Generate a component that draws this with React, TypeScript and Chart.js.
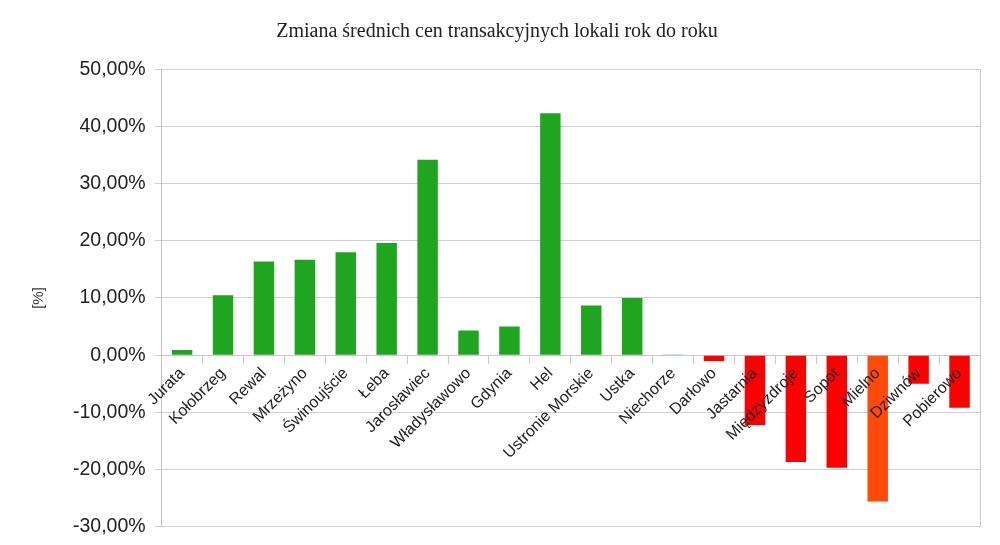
import React, { useEffect, useRef } from "react";
import { Chart, registerables } from "chart.js";

Chart.register(...registerables);

const TITLE = "Zmiana średnich cen transakcyjnych lokali rok do roku";
const Y_TITLE = "[%]";

const towns = [
  "Jurata", "Kołobrzeg", "Rewal", "Mrzeżyno", "Świnoujście", "Łeba", "Jarosławiec",
  "Władysławowo", "Gdynia", "Hel", "Ustronie Morskie", "Ustka", "Niechorze", "Darłowo",
  "Jastarnia", "Międzyzdroje", "Sopot", "Mielno", "Dziwnów", "Pobierowo",
];

const changePct = [
  0.9, 10.5, 16.4, 16.7, 18.0, 19.6, 34.2,
  4.3, 5.0, 42.3, 8.7, 10.0, 0.1, -1.0,
  -12.2, -18.7, -19.7, -25.6, -5.0, -9.2,
];

const Y_MIN = -30;
const Y_MAX = 50;
const Y_STEP = 10;

const GREEN = "#1fa51f";
const RED = "#ff0000";
const ORANGE = "#ff4a0a";
const HIGHLIGHT = "Mielno";

const barColors = towns.map((t, i) =>
  t === HIGHLIGHT ? ORANGE : changePct[i] >= 0 ? GREEN : RED
);

const fmt = (v: number) => v.toFixed(2).replace(".", ",") + "%";

const rightBorder = {
  id: "rightBorder",
  afterDraw(chart: any) {
    const { ctx, chartArea } = chart;
    ctx.save();
    ctx.strokeStyle = "#c8c8c8";
    ctx.lineWidth = 1;
    ctx.beginPath();
    const x = Math.round(chartArea.right) + 0.5;
    ctx.moveTo(x, chartArea.top);
    ctx.lineTo(x, chartArea.bottom);
    ctx.stroke();
    ctx.restore();
  },
};

export default function App() {
  const ref = useRef<HTMLCanvasElement>(null);

  useEffect(() => {
    document.body.style.margin = "0";
    const chart = new Chart(ref.current!, {
      type: "bar",
      data: {
        labels: towns,
        datasets: [
          {
            data: changePct,
            backgroundColor: barColors,
            borderWidth: 0,
            categoryPercentage: 1,
            barPercentage: 0.5,
          },
        ],
      },
      plugins: [rightBorder],
      options: {
        animation: false,
        responsive: false,
        maintainAspectRatio: false,
        layout: { padding: { left: 14, right: 20, top: 0, bottom: 18.3 } },
        plugins: {
          legend: { display: false },
          tooltip: { enabled: false },
          title: {
            display: true,
            text: TITLE,
            color: "#222",
            font: { family: "'Liberation Serif', 'Times New Roman', serif", size: 20, weight: "normal" },
            padding: { top: 19.5, bottom: 25.8 },
          },
        },
        scales: {
          x: {
            position: { y: 0 } as any,
            grid: {
              display: true,
              drawOnChartArea: false,
              drawTicks: true,
              tickLength: 8,
              color: "#c8c8c8",
              offset: true,
            },
            border: { display: true, color: "#c8c8c8" },
            ticks: {
              z: 1,
              autoSkip: false,
              maxRotation: 45,
              minRotation: 45,
              padding: 1,
              color: "#222",
              font: { family: "'Liberation Sans', Arial, sans-serif", size: 16 },
            },
          },
          y: {
            min: Y_MIN,
            max: Y_MAX,
            afterFit: (scale: any) => {
              scale.paddingBottom = 0;
              scale.paddingTop = 0;
            },
            ticks: {
              stepSize: Y_STEP,
              padding: 9,
              color: "#222",
              font: { family: "'Liberation Sans', Arial, sans-serif", size: 19.5 },
              callback: (v: any) => fmt(Number(v)),
            },
            grid: { color: "#d0d0d0", tickLength: 7, drawTicks: true },
            border: { display: true, color: "#c0c0c0" },
            title: {
              display: true,
              text: Y_TITLE,
              color: "#333",
              font: { family: "'Liberation Sans', Arial, sans-serif", size: 15 },
              padding: { top: 16, bottom: 16 },
            },
          },
        },
      },
    });
    return () => chart.destroy();
  }, []);

  return (
    <div style={{ width: 1000, height: 545, position: "relative", background: "#fff" }}>
      <canvas ref={ref} width={1000} height={545} style={{ display: "block" }} />
    </div>
  );
}
